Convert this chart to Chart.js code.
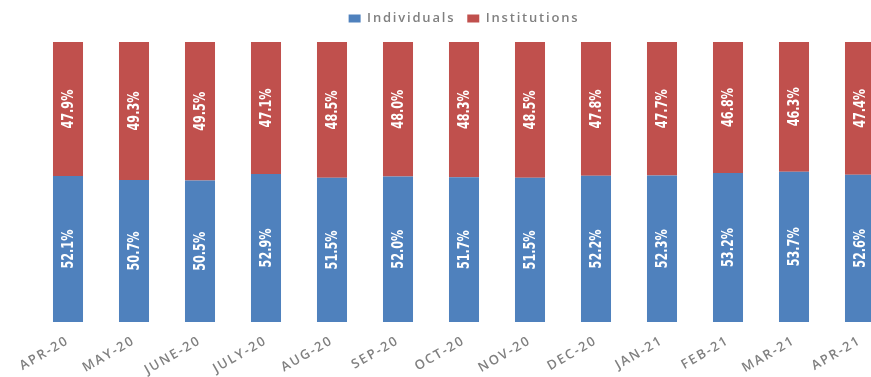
<!DOCTYPE html>
<html>
<head>
<meta charset="utf-8">
<script src="https://cdn.jsdelivr.net/npm/chart.js@4/dist/chart.umd.min.js"></script>
<style>
  html, body { margin: 0; padding: 0; background: #fff; overflow: hidden; }
  #wrap { width: 914px; height: 377px; }
</style>
</head>
<body>
<div id="wrap"><canvas id="shareChart"></canvas></div>
<script>
const months = ["APR-20", "MAY-20", "JUNE-20", "JULY-20", "AUG-20", "SEP-20", "OCT-20",
  "NOV-20", "DEC-20", "JAN-21", "FEB-21", "MAR-21", "APR-21"];
const individuals = [52.1, 50.7, 50.5, 52.9, 51.5, 52.0, 51.7, 51.5, 52.2, 52.3, 53.2, 53.7, 52.6];
const institutions = [47.9, 49.3, 49.5, 47.1, 48.5, 48.0, 48.3, 48.5, 47.8, 47.7, 46.8, 46.3, 47.4];

// vertical value labels inside each bar segment
const barLabels = {
  id: "barLabels",
  afterDatasetsDraw(chart) {
    const ctx = chart.ctx;
    chart.data.datasets.forEach((ds, i) => {
      chart.getDatasetMeta(i).data.forEach((bar, j) => {
        const y = (bar.y + bar.base) / 2;
        ctx.save();
        ctx.letterSpacing = "0px";
        ctx.translate(bar.x, y);
        ctx.rotate(-Math.PI / 2);
        ctx.scale(0.78, 1);
        ctx.font = "bold 16px 'Liberation Sans Narrow', 'DejaVu Sans Condensed', sans-serif";
        ctx.fillStyle = "#ffffff";
        ctx.textAlign = "center";
        ctx.textBaseline = "middle";
        ctx.fillText(ds.data[j].toFixed(1) + "%", 0, 1);
        ctx.restore();
      });
    });
  }
};

// letter spacing for legend and axis text, extra gap under legend
const spacing = {
  id: "spacing",
  beforeLayout(chart) {
    chart.ctx.letterSpacing = "1.8px";
    const lg = chart.legend;
    if (lg && !lg._patched) {
      const fit = lg.fit;
      lg.fit = function () { fit.call(this); this.height += 7; };
      lg._patched = true;
    }
  },
  beforeDraw(chart) { chart.ctx.letterSpacing = "1.8px"; }
};

new Chart(document.getElementById("shareChart"), {
  type: "bar",
  data: {
    labels: months,
    datasets: [
      { label: "Individuals", data: individuals, backgroundColor: "#4F81BD",
        barPercentage: 0.91, categoryPercentage: 0.5 },
      { label: "Institutions", data: institutions, backgroundColor: "#C0504D",
        barPercentage: 0.91, categoryPercentage: 0.5 }
    ]
  },
  plugins: [spacing, barLabels],
  options: {
    responsive: true,
    maintainAspectRatio: false,
    animation: false,
    layout: { padding: { left: 35, right: 21, top: 0, bottom: 0 } },
    plugins: {
      legend: {
        position: "top",
        labels: {
          boxWidth: 12, boxHeight: 8, padding: 12,
          color: "#808080",
          font: { family: "'Open Sans', sans-serif", size: 13, weight: "600" }
        }
      },
      tooltip: { enabled: false }
    },
    scales: {
      x: {
        stacked: true,
        grid: { display: false },
        border: { display: false },
        ticks: {
          color: "#808080",
          autoSkip: false,
          minRotation: 30,
          maxRotation: 30,
          padding: 3,
          font: { family: "'Open Sans', sans-serif", size: 13, weight: "600" }
        },
        afterFit(scale) { scale.height = 55; }
      },
      y: {
        stacked: true,
        display: false,
        min: 0,
        max: 100
      }
    }
  }
});
</script>
</body>
</html>
